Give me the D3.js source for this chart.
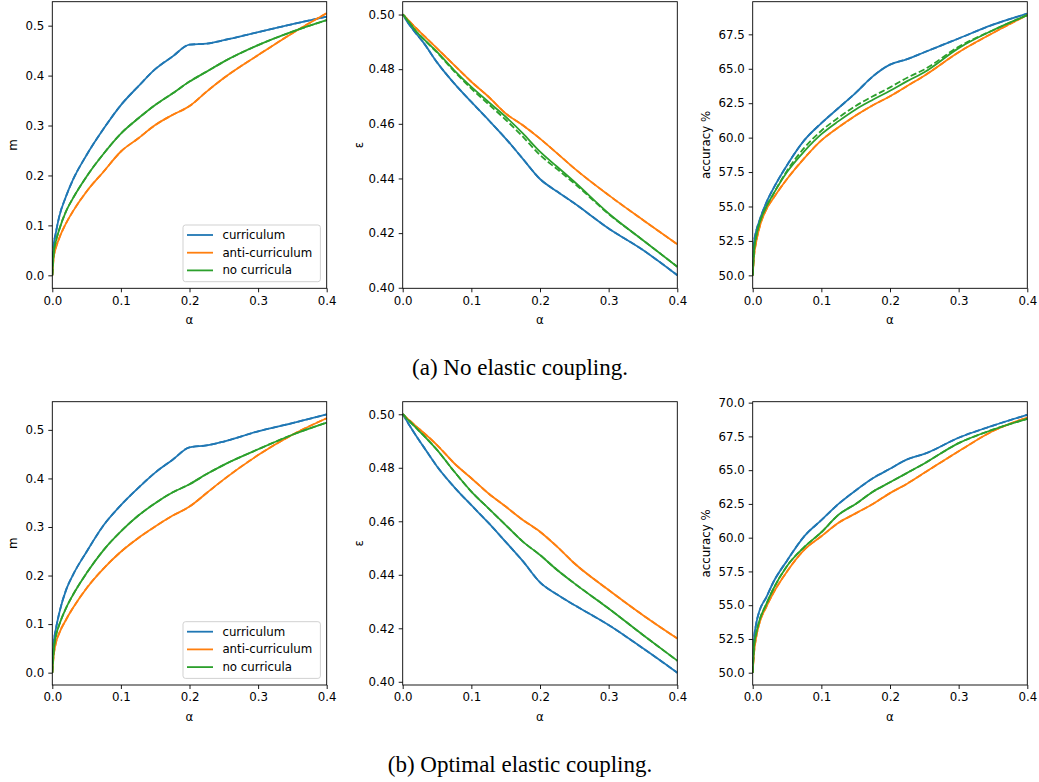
<!DOCTYPE html>
<html><head><meta charset="utf-8">
<script src="https://cdn.jsdelivr.net/npm/d3@7"></script>
<style>
body{margin:0;background:#fff;}
svg text{font-family:"DejaVu Sans",sans-serif;}
</style></head>
<body><svg id="c" width="1039" height="782"></svg>
<script>
// ---------- data ----------
const alphas = [0, 0.002, 0.005, 0.01, 0.02, 0.03, 0.05, 0.075, 0.1, 0.125, 0.15, 0.175, 0.2, 0.225, 0.25, 0.3, 0.35, 0.4];
const seriesNames = ["curriculum", "anti-curriculum", "no curricula"];
const colors = ["#1f77b4", "#ff7f0e", "#2ca02c"];
const xTicks = [0, 0.1, 0.2, 0.3, 0.4];

// (a) No elastic coupling
const mCurA  = [0, 0.06, 0.084, 0.117, 0.158, 0.191, 0.241, 0.294, 0.341, 0.378, 0.413, 0.438, 0.462, 0.464, 0.471, 0.487, 0.503, 0.518];
const mAntiA = [0, 0.035, 0.054, 0.074, 0.104, 0.128, 0.168, 0.208, 0.248, 0.274, 0.301, 0.321, 0.339, 0.368, 0.395, 0.441, 0.485, 0.525];
const mNoA   = [0, 0.045, 0.067, 0.091, 0.128, 0.154, 0.198, 0.244, 0.284, 0.314, 0.341, 0.364, 0.388, 0.408, 0.428, 0.461, 0.488, 0.511];
const eCurA  = [0.5, 0.4994, 0.4980, 0.4962, 0.4929, 0.4898, 0.4825, 0.4748, 0.4680, 0.4614, 0.4546, 0.4472, 0.4398, 0.4352, 0.4309, 0.4217, 0.4138, 0.4046];
const eAntiA = [0.5, 0.4996, 0.4988, 0.4975, 0.4949, 0.4925, 0.4876, 0.4815, 0.4754, 0.4699, 0.4638, 0.4595, 0.4546, 0.4492, 0.4437, 0.4339, 0.4248, 0.4159];
const eNoA   = [0.5, 0.4996, 0.4985, 0.4970, 0.4937, 0.4912, 0.4863, 0.4796, 0.4735, 0.4680, 0.4626, 0.4565, 0.4498, 0.4443, 0.4388, 0.4272, 0.4174, 0.4077];
const eNoA_th= [0.5, 0.4996, 0.4985, 0.4970, 0.4937, 0.4911, 0.4861, 0.4792, 0.4729, 0.4672, 0.4615, 0.4553, 0.4486, 0.4434, 0.4382, 0.4270, 0.4174, 0.4077];
const aCurA  = [50, 52.4, 53.2, 54.0, 55.3, 56.3, 58.0, 59.8, 61.05, 62.15, 63.25, 64.45, 65.3, 65.7, 66.2, 67.2, 68.2, 69.0];
const aAntiA = [50, 51.4, 52.4, 53.5, 54.8, 55.6, 57.0, 58.5, 59.8, 60.75, 61.6, 62.35, 63.0, 63.75, 64.5, 66.2, 67.6, 68.9];
const aNoA   = [50, 51.8, 52.8, 53.8, 55.0, 55.9, 57.5, 59.0, 60.25, 61.2, 62.05, 62.75, 63.4, 64.1, 64.75, 66.5, 67.8, 68.9];
const aNoA_th= [50, 51.8, 52.8, 53.8, 55.0, 55.9, 57.6, 59.25, 60.5, 61.45, 62.3, 63.0, 63.65, 64.35, 64.95, 66.6, 67.8, 68.9];

// (b) Optimal elastic coupling
const mCurB  = [0, 0.06, 0.088, 0.122, 0.170, 0.201, 0.249, 0.304, 0.345, 0.380, 0.412, 0.438, 0.464, 0.468, 0.476, 0.497, 0.514, 0.532];
const mAntiB = [0, 0.035, 0.060, 0.081, 0.109, 0.133, 0.174, 0.215, 0.249, 0.277, 0.301, 0.323, 0.342, 0.370, 0.398, 0.448, 0.490, 0.524];
const mNoB   = [0, 0.045, 0.074, 0.098, 0.133, 0.160, 0.205, 0.253, 0.291, 0.323, 0.349, 0.371, 0.388, 0.409, 0.428, 0.460, 0.490, 0.515];
const eCurB  = [0.5, 0.4993, 0.4979, 0.4958, 0.4918, 0.4880, 0.4805, 0.4728, 0.4660, 0.4594, 0.4523, 0.4451, 0.4372, 0.4326, 0.4287, 0.4212, 0.4125, 0.4034];
const eAntiB = [0.5, 0.4996, 0.4988, 0.4977, 0.4954, 0.4932, 0.4885, 0.4817, 0.4761, 0.4704, 0.4655, 0.4605, 0.4561, 0.4505, 0.4443, 0.4343, 0.4249, 0.4162];
const eNoB   = [0.5, 0.4996, 0.4986, 0.4974, 0.4948, 0.4922, 0.4867, 0.4786, 0.4711, 0.4648, 0.4586, 0.4524, 0.4474, 0.4418, 0.4368, 0.4274, 0.4175, 0.4079];
const aCurB  = [50, 52.5, 53.6, 54.6, 55.6, 56.7, 58.3, 60.1, 61.3, 62.5, 63.5, 64.4, 65.1, 65.8, 66.2, 67.4, 68.3, 69.1];
const aAntiB = [50, 51.5, 52.6, 53.7, 54.9, 55.9, 57.5, 59.1, 60.1, 61.1, 61.8, 62.5, 63.3, 64.0, 64.8, 66.4, 67.9, 68.9];
const aNoB   = [50, 52.0, 52.9, 53.9, 55.1, 56.2, 57.9, 59.3, 60.4, 61.7, 62.5, 63.4, 64.1, 64.8, 65.5, 67.0, 68.0, 68.8];

const mTicks = [0, 0.1, 0.2, 0.3, 0.4, 0.5];
const eTicks = [0.40, 0.42, 0.44, 0.46, 0.48, 0.50];
const aTicksA = [50, 52.5, 55, 57.5, 60, 62.5, 65, 67.5];
const aTicksB = [50, 52.5, 55, 57.5, 60, 62.5, 65, 67.5, 70];
const captions = ["(a) No elastic coupling.", "(b) Optimal elastic coupling."];

// ---------- layout ----------
const cols = [[52.3, 326.7], [402.7, 677.3], [752.7, 1027.3]];
const rows = [[1.7, 288.3], [401.7, 685]];
const captionY = [375, 772];

const panels = [
  {r:0,c:0,label:"m",dom:[-0.026,0.548],ticks:mTicks,fmt:".1f",sim:[mCurA,mAntiA,mNoA],th:[mCurA,mAntiA,mNoA],legend:true},
  {r:0,c:1,label:"ε",dom:[0.3998,0.5047],ticks:eTicks,fmt:".2f",sim:[eCurA,eAntiA,eNoA],th:[eCurA,eAntiA,eNoA_th]},
  {r:0,c:2,label:"accuracy %",dom:[49.06,69.87],ticks:aTicksA,fmt:".1f",sim:[aCurA,aAntiA,aNoA],th:[aCurA,aAntiA,aNoA_th]},
  {r:1,c:0,label:"m",dom:[-0.0254,0.558],ticks:mTicks,fmt:".1f",sim:[mCurB,mAntiB,mNoB],th:[mCurB,mAntiB,mNoB],legend:true},
  {r:1,c:1,label:"ε",dom:[0.3988,0.5047],ticks:eTicks,fmt:".2f",sim:[eCurB,eAntiB,eNoB],th:[eCurB,eAntiB,eNoB]},
  {r:1,c:2,label:"accuracy %",dom:[49.09,70.07],ticks:aTicksB,fmt:".1f",sim:[aCurB,aAntiB,aNoB],th:[aCurB,aAntiB,aNoB]},
];

const svg = d3.select("#c");
const FS = "11.8px";

panels.forEach(p => {
  const [x0, x1] = cols[p.c];
  const [y0, y1] = rows[p.r];
  const x = d3.scaleLinear().domain([0, 0.4]).range([x0, x1]);
  const y = d3.scaleLinear().domain(p.dom).range([y1, y0]);
  const g = svg.append("g");
  const clipId = "clip" + p.r + p.c;
  g.append("clipPath").attr("id", clipId).append("rect")
    .attr("x", x0).attr("y", y0).attr("width", x1 - x0).attr("height", y1 - y0);

  const line = d3.line().x((d, i) => x(alphas[i])).y(d => y(d)).curve(d3.curveMonotoneX);
  const lg = g.append("g").attr("clip-path", `url(#${clipId})`);
  p.sim.forEach((s, k) => {
    lg.append("path").attr("d", line(s)).attr("fill", "none")
      .attr("stroke", colors[k]).attr("stroke-width", 1.8).attr("stroke-linejoin", "round");
    lg.append("path").attr("d", line(p.th[k])).attr("fill", "none")
      .attr("stroke", colors[k]).attr("stroke-width", 1.8).attr("stroke-dasharray", "6.3,2.7");
  });

  // axes
  const xa = g.append("g").attr("transform", `translate(0,${y1})`)
    .call(d3.axisBottom(x).tickValues(xTicks).tickFormat(d3.format(".1f")).tickSizeOuter(0).tickSize(4).tickPadding(4));
  const ya = g.append("g").attr("transform", `translate(${x0},0)`)
    .call(d3.axisLeft(y).tickValues(p.ticks).tickFormat(d3.format(p.fmt)).tickSizeOuter(0).tickSize(4).tickPadding(4));
  [xa, ya].forEach(a => {
    a.select(".domain").remove();
    a.selectAll("text").attr("font-size", FS).attr("fill", "#000").attr("font-family", "DejaVu Sans");
    a.selectAll("line").attr("stroke", "#000").attr("stroke-width", 0.9);
  });
  g.append("rect").attr("x", x0).attr("y", y0).attr("width", x1 - x0).attr("height", y1 - y0)
    .attr("fill", "none").attr("stroke", "#000").attr("stroke-width", 0.9);

  g.append("text").attr("x", (x0 + x1) / 2).attr("y", y1 + 36).attr("text-anchor", "middle")
    .attr("font-size", FS).text("α");
  const lx = p.c === 0 ? 13 : (p.c === 1 ? 359 : 706);
  g.append("text").attr("transform", `translate(${lx},${(y0 + y1) / 2}) rotate(-90)`)
    .attr("text-anchor", "middle").attr("dominant-baseline", "central").attr("font-size", FS).text(p.label);

  if (p.legend) {
    const bx = x1 - 6.3 - 137.4, by = y1 - 6.6 - 56.7;
    g.append("rect").attr("x", bx).attr("y", by).attr("width", 137.4).attr("height", 56.7)
      .attr("rx", 2.5).attr("fill", "#fff").attr("fill-opacity", 0.8).attr("stroke", "#cccccc").attr("stroke-width", 0.9);
    seriesNames.forEach((n, k) => {
      const ry = by + 10 + k * 17.7;
      g.append("line").attr("x1", bx + 4).attr("x2", bx + 30).attr("y1", ry).attr("y2", ry)
        .attr("stroke", colors[k]).attr("stroke-width", 1.8);
      g.append("text").attr("x", bx + 39.4).attr("y", ry).attr("dominant-baseline", "central")
        .attr("font-size", FS).text(n);
    });
  }
});

captions.forEach((t, i) => {
  svg.append("text").attr("x", 520).attr("y", captionY[i]).attr("text-anchor", "middle")
    .style("font-family", "'Liberation Serif','Times New Roman',serif").attr("font-size", "23px").text(t);
});
</script></body></html>
